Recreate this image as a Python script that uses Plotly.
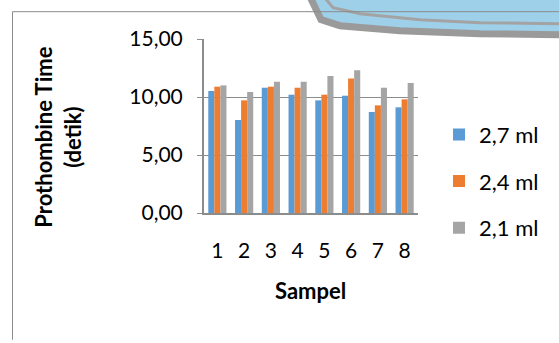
import plotly.graph_objects as go

categories = ["1", "2", "3", "4", "5", "6", "7", "8"]
s27 = [10.52, 8.02, 10.80, 10.20, 9.71, 10.11, 8.71, 9.11]
s24 = [10.89, 9.71, 10.89, 10.80, 10.20, 11.60, 9.28, 9.80]
s21 = [11.00, 10.43, 11.32, 11.32, 11.81, 12.30, 10.80, 11.20]
series_names = ["2,7 ml", "2,4 ml", "2,1 ml"]
colors = ["#5b9bd5", "#ed7d31", "#a5a5a5"]
y_ticks = [0, 5, 10, 15]
y_ticklabels = ["0,00", "5,00", "10,00", "15,00"]

W, H = 559, 343
L, R, T, B = 204, 418, 39.3, 213.3

def px(x):
    return (x - L) / (R - L)

def py(y):
    return (B - y) / (B - T)

def path_of(pts, close=False):
    p = "M " + " L ".join(f"{px(x)},{py(y)}" for x, y in pts)
    return p + (" Z" if close else "")

FONT = "Lato, Carlito, Calibri, sans-serif"

fig = go.Figure()
for name, vals, c in zip(series_names, [s27, s24, s21], colors):
    fig.add_trace(go.Bar(x=categories, y=vals, name=name, marker_color=c,
                         marker_line_width=0, legendgroup=name))

shapes = []
# watermark fragment (top right)
outer = [(310, -3), (321, 20), (340, 26), (400, 31), (480, 34), (565, 35)]
shapes.append(dict(type="path", xref="paper", yref="paper",
                   path=path_of(outer + [(565, -3)], close=True),
                   fillcolor="#9fd0ea", line=dict(width=0), layer="below"))
shapes.append(dict(type="path", xref="paper", yref="paper", path=path_of(outer),
                   line=dict(color="#9a9a9a", width=7), layer="below"))
inner = [(324, -3), (333, 8), (360, 14), (420, 20), (480, 23), (565, 24)]
shapes.append(dict(type="path", xref="paper", yref="paper", path=path_of(inner),
                   line=dict(color="#a3a3a3", width=3), layer="below"))
# chart border (top and left)
shapes.append(dict(type="line", xref="paper", yref="paper", x0=px(12.5), x1=px(560),
                   y0=py(12), y1=py(12), line=dict(color="#8c8c8c", width=1)))
shapes.append(dict(type="line", xref="paper", yref="paper", x0=px(12.5), x1=px(12.5),
                   y0=py(12), y1=py(340), line=dict(color="#8c8c8c", width=1)))

fig.update_layout(
    width=W, height=H,
    margin=dict(l=L, r=W - R, t=T, b=H - B, pad=0, autoexpand=False),
    paper_bgcolor="white", plot_bgcolor="white",
    font=dict(family=FONT, size=21, color="#000000"),
    barmode="group", bargap=0.32, bargroupgap=0,
    showlegend=True,
    legend=dict(x=px(439), y=py(114), xanchor="left", yanchor="top",
                font=dict(size=22), traceorder="grouped", tracegroupgap=15,
                itemwidth=30, bgcolor="rgba(0,0,0,0)"),
    shapes=shapes,
    xaxis=dict(showline=True, linecolor="#8c8c8c", linewidth=2, ticks="",
               showgrid=False, tickfont=dict(size=21), fixedrange=True,
               automargin=False, ticklabelstandoff=18),
    yaxis=dict(range=[0, 15], tickvals=y_ticks, ticktext=y_ticklabels,
               showline=True, linecolor="#8c8c8c", linewidth=2,
               showgrid=True, gridcolor="#8c8c8c", gridwidth=1,
               ticks="outside", ticklen=5, tickcolor="#8c8c8c",
               tickfont=dict(size=21), zeroline=False, automargin=False,
               ticklabelstandoff=10),
    annotations=[
        dict(text="<b>Prothombine Time<br>(detik)</b>", xref="paper", yref="paper",
             x=px(58), y=py(138), xanchor="center", yanchor="middle",
             textangle=-90, showarrow=False,
             font=dict(size=22, family=FONT)),
        dict(text="<b>Sampel</b>", xref="paper", yref="paper",
             x=px(310), y=py(291), xanchor="center", yanchor="middle",
             showarrow=False,
             font=dict(size=22, family=FONT)),
    ],
)

fig.write_html("out.html", config={"displayModeBar": False},
               post_script="document.body.style.margin='0';")
